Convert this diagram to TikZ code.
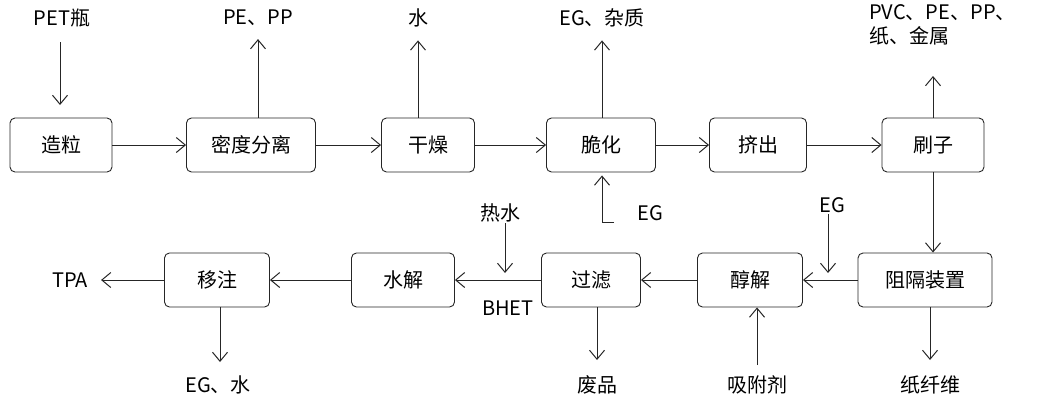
\documentclass[tikz,border=0pt]{standalone}
\usepackage{fontspec}
\setmainfont{Liberation Sans}
\newfontfamily\cjk{Noto Sans CJK SC}
\usetikzlibrary{arrows.meta}
\begin{document}
\begin{tikzpicture}[x=1pt,y=-1pt,
  font=\cjk\fontsize{20}{24}\selectfont,
  box/.style={draw=black!85, line width=0.9pt, rounded corners=5pt, minimum height=54pt, inner sep=0pt},
  lbl/.style={inner sep=1pt},
  arr/.style={draw=black!85, line width=0.9pt, -{Straight Barb[length=9pt,width=15pt,line width=1pt]}}]
\useasboundingbox (0,0) rectangle (1040,405);
% top row
\node[box, minimum width=102pt] (zl) at (61,145) {造粒};
\node[box, minimum width=129pt] (md) at (251,145) {密度分离};
\node[box, minimum width=93pt] (gz) at (428,145) {干燥};
\node[box, minimum width=109pt] (ch) at (601,145) {脆化};
\node[box, minimum width=97pt] (jc) at (758,145) {挤出};
\node[box, minimum width=102pt] (sz) at (933,145) {刷子};
% bottom row
\node[box, minimum width=134pt] (zg) at (925,280) {阻隔装置};
\node[box, minimum width=105pt] (cj) at (750,280) {醇解};
\node[box, minimum width=99pt] (gl) at (591,280) {过滤};
\node[box, minimum width=103pt] (sj) at (403,280) {水解};
\node[box, minimum width=105pt] (yz) at (217,280) {移注};
% labels
\node[lbl] (pet) at (62,18) {PET瓶};
\node[lbl] (pepp) at (258,18) {PE、PP};
\node[lbl] (water) at (418,18) {水};
\node[lbl] (egz) at (602,18) {EG、杂质};
\node[lbl, align=left, anchor=north west] (pvc) at (868,3) {PVC、PE、PP、\\纸、金属};
\node[lbl] (eg1) at (650,213) {EG};
\node[lbl] (eg2) at (832,205) {EG};
\node[lbl] (rs) at (500,213) {热水};
\node[lbl] (bhet) at (508,308) {BHET};
\node[lbl] (tpa) at (70,280) {TPA};
\node[lbl] (egw) at (218,385) {EG、水};
\node[lbl] (fp) at (597,385) {废品};
\node[lbl] (xfj) at (757,385) {吸附剂};
\node[lbl] (zxw) at (930,385) {纸纤维};
% coordinates
\coordinate (eg1c) at (614,222);
\coordinate (eg1k) at (602,222);
% top row connectors
\draw[arr] (60,42) -- (60,105);
\draw[arr] (zl) -- (md);
\draw[arr] (md) -- (gz);
\draw[arr] (gz) -- (ch);
\draw[arr] (ch) -- (jc);
\draw[arr] (jc) -- (sz);
\draw[arr, shorten >=12pt] (md.north -| pepp) -- (pepp.south);
\draw[arr, shorten >=12pt] (gz.north -| water) -- (water.south);
\draw[arr, shorten >=12pt] (ch.north -| egz) -- (egz.south);
\draw[arr] (sz.north) -- (933,76);
\draw[arr, shorten >=3pt] (eg1c) -- (eg1k) -- (ch.south -| eg1k);
% down
\draw[arr] (sz.south) -- (zg.north -| sz.south);
% bottom row connectors
\draw[arr] (zg) -- (cj);
\draw[arr] (cj) -- (gl);
\draw[arr] (gl) -- (sj);
\draw[arr] (sj) -- (yz);
\draw[arr, shorten >=12pt] (yz) -- (tpa);
\draw[arr] (eg2.south -| 828,0) -- (828,273);
\draw[arr] (rs.south -| 505,0) -- (505,273);
\draw[arr] (yz.south -| 220,0) -- (220,362);
\draw[arr] (gl.south -| fp) -- (597,360);
\draw[arr] (757,365) -- (cj.south -| xfj);
\draw[arr] (zg.south -| zxw) -- (930,360);
\end{tikzpicture}
\end{document}
